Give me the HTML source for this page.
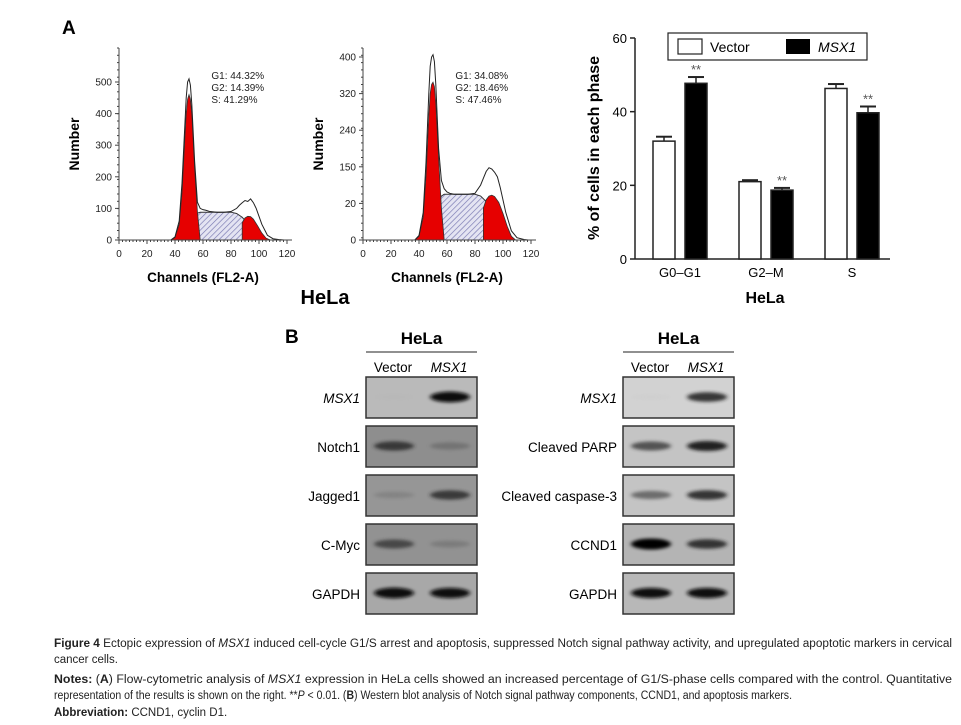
<!DOCTYPE html>
<html><head><meta charset="utf-8"><style>
body{margin:0;background:#fff;width:961px;height:725px;overflow:hidden}
svg{display:block;font-family:"Liberation Sans",Arial,sans-serif}
</style></head><body>
<svg id="fig" width="961" height="725" viewBox="0 0 961 725" xmlns="http://www.w3.org/2000/svg">
<defs>
<pattern id="hatch" patternUnits="userSpaceOnUse" width="4" height="4" patternTransform="rotate(45)">
<rect width="4" height="4" fill="#e4e4f2"/><line x1="0" y1="0" x2="0" y2="4" stroke="#7676b0" stroke-width="1.3"/>
</pattern>
<filter id="blur" x="-20%" y="-100%" width="140%" height="300%"><feGaussianBlur stdDeviation="2.2 1.6"/></filter>
</defs>
<text x="62" y="34" font-size="19" font-weight="bold">A</text>
<text x="285" y="343" font-size="19" font-weight="bold">B</text>
<g id="h1"></g>
<g id="h2"></g>
<text x="325" y="304" font-size="20" font-weight="bold" text-anchor="middle">HeLa</text>
<g id="bar"></g>
<g id="wb"></g>
<g font-size="11.5" fill="#222">
<text x="54" y="647" textLength="898" lengthAdjust="spacingAndGlyphs"><tspan font-weight="bold">Figure 4</tspan> Ectopic expression of <tspan font-style="italic">MSX1</tspan> induced cell-cycle G1/S arrest and apoptosis, suppressed Notch signal pathway activity, and upregulated apoptotic markers in cervical</text>
<text x="54" y="663">cancer cells.</text>
<text x="54" y="683" textLength="898" lengthAdjust="spacingAndGlyphs"><tspan font-weight="bold">Notes:</tspan> (<tspan font-weight="bold">A</tspan>) Flow-cytometric analysis of <tspan font-style="italic">MSX1</tspan> expression in HeLa cells showed an increased percentage of G1/S-phase cells compared with the control. Quantitative</text>
<text x="54" y="699" textLength="738" lengthAdjust="spacingAndGlyphs">representation of the results is shown on the right. **<tspan font-style="italic">P</tspan> &lt; 0.01. (<tspan font-weight="bold">B</tspan>) Western blot analysis of Notch signal pathway components, CCND1, and apoptosis markers.</text>
<text x="54" y="716"><tspan font-weight="bold">Abbreviation:</tspan> CCND1, cyclin D1.</text>
</g>
</svg>
<script>
const NS='http://www.w3.org/2000/svg';
function mk(p,t,a,txt){const e=document.createElementNS(NS,t);for(const k in a)e.setAttribute(k,a[k]);if(txt!==undefined)e.textContent=txt;p.appendChild(e);return e;}

// ---- Histogram data (channel, count) ----
const h1Channels=[37,40,43,45,47,48,49,50,51,52,54,56,58,60,62,65,70,75,80,84,86,88,90,92,94,96,98,102,106,110,115,118];
const h1Outline=[0,10,60,180,360,450,500,510,490,430,250,120,100,96,94,90,88,88,90,100,110,118,125,122,130,118,100,50,15,4,1,0];
const h1SChannels=[40,44,48,52,56,58,62,70,80,84,88,92,96,100,104,108];
const h1S=[0,15,40,65,85,88,88,88,88,84,72,52,30,12,3,0];
const h1G1Channels=[37,40,43,45,47,48,49,50,51,52,54,56,58];
const h1G1=[0,8,50,150,320,400,445,460,445,400,230,90,0];
const h1G2Channels=[88,90,92,94,96,99,102,105,108];
const h1G2=[55,70,75,74,66,45,22,6,0];
const h1Labels=['G1: 44.32%','G2: 14.39%','S: 41.29%'];
const h1YTicks=[0,100,200,300,400,500];

const h2Channels=[37,40,43,45,47,48,49,50,51,52,54,56,58,60,62,65,70,75,80,84,86,88,90,92,94,96,98,102,106,110,115,118];
const h2Outline=[0,10,60,170,320,380,400,405,390,340,200,130,112,105,102,100,100,100,102,120,135,150,158,155,148,138,115,60,20,5,1,0];
const h2SChannels=[40,44,48,52,56,58,62,70,80,84,88,92,96,100,104,108];
const h2S=[0,15,45,75,96,100,100,100,100,96,84,62,38,16,4,0];
const h2G1Channels=[37,40,43,45,47,48,49,50,51,52,54,56,58];
const h2G1=[0,8,50,140,270,320,340,345,335,300,180,70,0];
const h2G2Channels=[86,88,90,92,94,97,100,103,106,109];
const h2G2=[70,88,96,98,95,82,58,30,8,0];
const h2Labels=['G1: 34.08%','G2: 18.46%','S: 47.46%'];
const h2YTicks=[0,80,160,240,320,400];
const h2YTickLabels=['0','20','150','240','320','400'];
const xTicks=[0,20,40,60,80,100,120];

function hist(g,o){
  const X=v=>o.x0+(v/120)*(o.x1-o.x0), Y=v=>o.y0-(v/o.ymax)*(o.y0-o.ytop);
  const area=(cs,vs)=>'M'+X(cs[0])+','+o.y0+' '+cs.map((c,i)=>'L'+X(c)+','+Y(vs[i])).join(' ')+' L'+X(cs[cs.length-1])+','+o.y0+'Z';
  let e=mk(g,'path',{d:area(o.sc,o.s),fill:'url(#hatch)',stroke:'#333','stroke-width':1});
  
  e=mk(g,'path',{d:area(o.g1c,o.g1),fill:'#e60000',stroke:'#333','stroke-width':0.8});
  
  e=mk(g,'path',{d:area(o.g2c,o.g2),fill:'#e60000',stroke:'#333','stroke-width':0.8});
  
  e=mk(g,'path',{d:'M'+o.oc.map((c,i)=>X(c)+','+Y(o.ov[i])).join(' L'),fill:'none',stroke:'#222','stroke-width':1});
  
  mk(g,'line',{x1:o.x0,y1:o.y0,x2:o.x1+5,y2:o.y0,stroke:'#444','stroke-width':1});
  mk(g,'line',{x1:o.x0,y1:o.y0,x2:o.x0,y2:48,stroke:'#444','stroke-width':1});
  for(let v=0;v<=120;v+=2.5){mk(g,'line',{x1:X(v),y1:o.y0,x2:X(v),y2:o.y0+(v%20==0?4:2),stroke:'#444'});}
  xTicks.forEach(v=>{e=mk(g,'text',{x:X(v),y:o.y0+17,'font-size':10,'text-anchor':'middle',fill:'#222'},v);});
  o.yt.forEach((v,i)=>{mk(g,'line',{x1:o.x0-4,y1:Y(v),x2:o.x0,y2:Y(v),stroke:'#444'});
    e=mk(g,'text',{x:o.x0-7,y:Y(v)+3.5,'font-size':10,'text-anchor':'end',fill:'#222'},o.ytl[i]);});
  for(let v=48;v<o.y0;v+=7.3)mk(g,'line',{x1:o.x0-2,y1:v,x2:o.x0,y2:v,stroke:'#444'});
  e=mk(g,'text',{x:(o.x0+o.x1)/2,y:282,'font-size':13.5,'font-weight':'bold','text-anchor':'middle'},'Channels (FL2-A)');
  e=mk(g,'text',{transform:`translate(${o.x0-40},144) rotate(-90)`,'font-size':14,'font-weight':'bold','text-anchor':'middle'},'Number');
  o.lab.forEach((t,i)=>{e=mk(g,'text',{x:X(66),y:79+i*12,'font-size':10,fill:'#222'},t);});
}
hist(document.getElementById('h1'),{x0:119,x1:287,y0:240,ytop:82,ymax:500,oc:h1Channels,ov:h1Outline,sc:h1SChannels,s:h1S,g1c:h1G1Channels,g1:h1G1,g2c:h1G2Channels,g2:h1G2,yt:h1YTicks,ytl:h1YTicks,lab:h1Labels});
hist(document.getElementById('h2'),{x0:363,x1:531,y0:240,ytop:57,ymax:400,oc:h2Channels,ov:h2Outline,sc:h2SChannels,s:h2S,g1c:h2G1Channels,g1:h2G1,g2c:h2G2Channels,g2:h2G2,yt:h2YTicks,ytl:h2YTickLabels,lab:h2Labels});

// ---- Bar chart ----
const phases=['G0–G1','G2–M','S'];
const vectorVals=[32,21,46.3];
const vectorErr=[1.2,0.4,1.2];
const msx1Vals=[47.7,18.7,39.7];
const msx1Err=[1.7,0.6,1.7];
const barYTicks=[0,20,40,60];
(function(){
  const g=document.getElementById('bar');
  const Y=v=>259-v*(221/60), x0=635;
  const groupX=i=>653+i*86;
  mk(g,'line',{x1:x0,y1:259,x2:890,y2:259,stroke:'#222','stroke-width':1.5});
  mk(g,'line',{x1:x0,y1:259,x2:x0,y2:38,stroke:'#222','stroke-width':1.5});
  barYTicks.forEach(v=>{mk(g,'line',{x1:x0-5,y1:Y(v),x2:x0,y2:Y(v),stroke:'#222','stroke-width':1.5});
    let e=mk(g,'text',{x:x0-8,y:Y(v)+5,'font-size':13,'text-anchor':'end'},v);});
  phases.forEach((p,i)=>{
    const gx=groupX(i);
    [[vectorVals[i],vectorErr[i],'#fff',0,'vector'],[msx1Vals[i],msx1Err[i],'#000',32,'msx1']].forEach(([v,er,f,off,nm])=>{
      const bx=gx+off;
      mk(g,'line',{x1:bx+11,y1:Y(v),x2:bx+11,y2:Y(v+er),stroke:'#222','stroke-width':1.5});
      mk(g,'line',{x1:bx+3,y1:Y(v+er),x2:bx+19,y2:Y(v+er),stroke:'#222','stroke-width':2});
      let e=mk(g,'rect',{x:bx,y:Y(v),width:22,height:Y(0)-Y(v),fill:f,stroke:'#222','stroke-width':1.5});
      
    });
    let e=mk(g,'text',{x:gx+43,y:Y(msx1Vals[i]+msx1Err[i])-3,'font-size':13,'text-anchor':'middle',fill:'#555'},'**');
    
    e=mk(g,'text',{x:gx+27,y:277,'font-size':13,'text-anchor':'middle'},p);
    
  });
  let e=mk(g,'text',{x:765,y:303,'font-size':16,'font-weight':'bold','text-anchor':'middle'},'HeLa');
  e=mk(g,'text',{transform:'translate(599,148) rotate(-90)','font-size':16,'font-weight':'bold','text-anchor':'middle'},'% of cells in each phase');
  const lg=mk(g,'g',{});
  mk(lg,'rect',{x:668,y:33,width:199,height:27,fill:'#fff',stroke:'#222','stroke-width':1.2});
  mk(lg,'rect',{x:678,y:39,width:24,height:15,fill:'#fff',stroke:'#222','stroke-width':1.2});
  mk(lg,'text',{x:710,y:52,'font-size':14},'Vector');
  mk(lg,'rect',{x:786,y:39,width:24,height:15,fill:'#000'});
  mk(lg,'text',{x:818,y:52,'font-size':14,'font-style':'italic'},'MSX1');
})();

// ---- Western blots ----
const blotLeftLabels=['MSX1','Notch1','Jagged1','C-Myc','GAPDH'];
const blotLeftVector=[0.05,0.75,0.35,0.7,0.95];
const blotLeftMsx1=[0.95,0.45,0.75,0.4,0.9];
const blotRightLabels=['MSX1','Cleaved PARP','Cleaved caspase-3','CCND1','GAPDH'];
const blotRightVector=[0.05,0.7,0.6,1,0.9];
const blotRightMsx1=[0.8,0.85,0.8,0.8,0.9];
const leftBg=['#bababa','#8e8e8e','#969696','#929292','#a8a8a8'];
const rightBg=['#d2d2d2','#c4c4c4','#c4c4c4','#b4b4b4','#b8b8b8'];
(function(){
  const g=document.getElementById('wb');
  const rows=[377,426,475,524,573];
  function col(x0,labels,vv,mv,bg){
    const w=111;
    let e=mk(g,'text',{x:x0+w/2,y:344,'font-size':17,'font-weight':'bold','text-anchor':'middle'},'HeLa');
    mk(g,'line',{x1:x0,y1:352,x2:x0+w,y2:352,stroke:'#222','stroke-width':1});
    e=mk(g,'text',{x:x0+27,y:372,'font-size':13.5,'text-anchor':'middle'},'Vector');
    e=mk(g,'text',{x:x0+83,y:372,'font-size':13.5,'font-style':'italic','text-anchor':'middle'},'MSX1');
    rows.forEach((y,i)=>{
      const pg=mk(g,'g',{});
      mk(pg,'rect',{x:x0,y:y,width:w,height:41,fill:bg[i],stroke:'#333','stroke-width':1.5});
      [[vv[i],x0+28],[mv[i],x0+84]].forEach(([v,cx])=>{
        const c=Math.round(160*(1-v));
        mk(pg,'ellipse',{cx:cx,cy:y+20,rx:20,ry:2+3.5*v,fill:`rgb(${c},${c},${c})`,opacity:Math.min(1,v*1.1),filter:'url(#blur)'});
      });
      e=mk(g,'text',{x:x0-6,y:y+26,'font-size':13.5,'text-anchor':'end','font-style':labels[i]=='MSX1'?'italic':'normal'},labels[i]);
      
    });
  }
  col(366,blotLeftLabels,blotLeftVector,blotLeftMsx1,leftBg);
  col(623,blotRightLabels,blotRightVector,blotRightMsx1,rightBg);
})();
</script>
</body></html>
